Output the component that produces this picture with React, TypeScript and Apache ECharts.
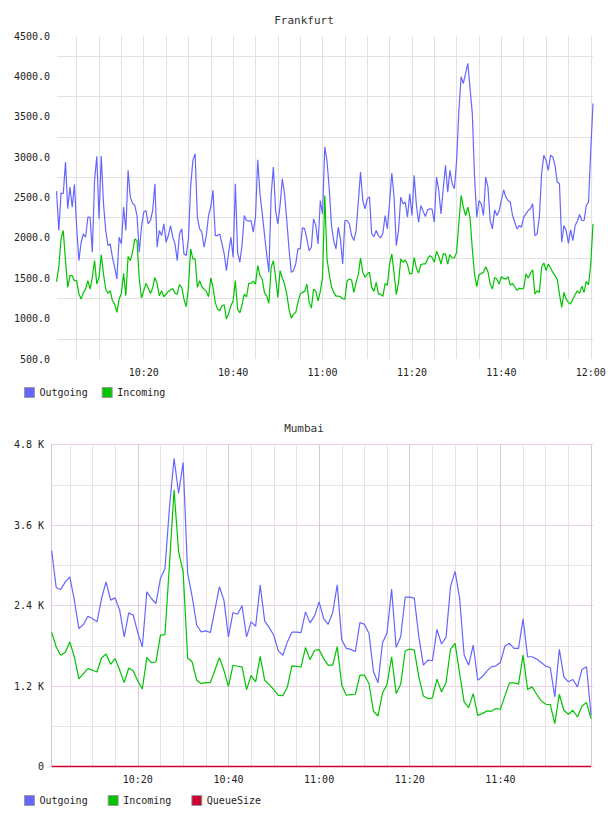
import React, { useEffect, useRef } from "react";
import * as echarts from "echarts";

const FONT = '"DejaVu Sans Mono", monospace';

// ---------- Frankfurt (30 s samples, minutes after 10:00) ----------
const FRA_START = 0.5;
const FRA_STEP = 0.5;
const fraOutgoing = [
  2579, 2091, 2554, 2546, 2940, 2360, 2629, 2381, 2662, 2132,
  1718, 1946, 2049, 2008, 2256, 2256, 1822, 2712, 3010, 2236,
  3014, 2422, 2091, 1905, 1925, 1760, 1635, 1491, 2008, 1925,
  2381, 2091, 2836, 2505, 2430, 2401, 2277, 1822, 2132, 2319,
  2339, 2174, 2215, 2339, 2670, 1884, 2091, 2029, 2174, 1946,
  2029, 2153, 2008, 1925, 1718, 2049, 2112, 1801,
  1780, 1987, 2641, 2960, 3043, 2256, 2112, 2070, 1884, 2029,
  2277, 2381, 2588, 2029, 2029, 2049, 1925, 1801, 1594, 1822,
  2008, 1760, 2670, 1822, 1698, 1917, 2277, 2215, 2207, 2215,
  2070, 2256, 2968, 2546, 2306, 2049, 1801, 1573, 2526, 2877,
  2339, 2174, 2401, 2732, 2546, 2215, 1863, 1573, 1594, 1677,
  1863, 1863, 2124, 2112, 1987, 1842,
  1884, 2236, 2153, 1925, 2463, 2298, 3126, 2952, 2608, 2153,
  1967, 1863, 2132, 1987, 1677, 2215, 2215, 2174, 2029, 1967,
  2091, 2443, 2815, 2463, 2360, 2484, 2505, 2049, 2016, 2091,
  2029, 1999, 2058, 2277, 2112, 2443, 2803, 2505, 1905, 2091,
  2505, 2422, 2443, 2256, 2546, 2277, 2774, 2401, 2194, 2401,
  2331, 2265, 2347, 2360, 2356, 2194,
  2753, 2587, 2297, 2608, 2898, 2567, 2836, 2670, 2608, 2960,
  3581, 3995, 3912, 4036, 4160, 3850, 3539, 2753, 2256, 2463,
  2422, 2277, 2753, 2629, 2215, 2111, 2347, 2277, 2331, 2463,
  2596, 2504, 2463, 2442, 2277, 2194, 2111, 2153, 2132, 2256,
  2297, 2339, 2360, 2422, 2028, 2049, 2256, 2794, 3022, 2960,
  2836, 3022, 3001, 2898, 2691, 2670, 1946, 2153, 2090, 1933,
  2103, 1966, 2153, 2206, 2289, 2215, 2215, 2401, 2442, 3084,
  3664,
];
const fraIncoming = [
  1457, 1635, 1987, 2091, 1718, 1387, 1532, 1532, 1470, 1470,
  1304, 1242, 1325, 1366, 1470, 1366, 1511, 1718, 1428, 1511,
  1789, 1553, 1366, 1312, 1346, 1221, 1180, 1077, 1242, 1312,
  1561, 1283, 1768, 1718, 1822, 1987, 1967, 1491, 1255, 1346,
  1437, 1379, 1312, 1379, 1511, 1428, 1283, 1346, 1271, 1304,
  1337, 1358, 1374, 1312, 1304, 1420, 1387, 1242,
  1147, 1387, 1863, 1739, 1739, 1387, 1470, 1395, 1366, 1337,
  1271, 1503, 1387, 1201, 1118, 1097, 1159, 1172, 994, 1064,
  1159, 1221, 1470, 1118, 1072, 1172, 1304, 1271, 1437, 1437,
  1462, 1428, 1656, 1532, 1491, 1321, 1283, 1188, 1635, 1718,
  1511, 1263, 1594, 1503, 1428, 1304, 1118, 1006, 1056, 1077,
  1201, 1304, 1325, 1337, 1428, 1201,
  1130, 1366, 1337, 1221, 1337, 1511, 2526, 1739, 1544, 1395,
  1325, 1279, 1279, 1271, 1246, 1242, 1470, 1491, 1478, 1325,
  1445, 1544, 1751, 1573, 1511, 1553, 1573, 1387, 1337, 1449,
  1304, 1304, 1275, 1437, 1412, 1677, 1801, 1561, 1296, 1449,
  1739, 1698, 1727, 1669, 1553, 1561, 1760, 1623, 1565, 1669,
  1677, 1677, 1739, 1780, 1760, 1698,
  1834, 1772, 1676, 1801, 1801, 1676, 1792, 1751, 1751, 1821,
  2194, 2525, 2380, 2277, 2380, 2248, 1863, 1552, 1395, 1544,
  1560, 1573, 1643, 1581, 1428, 1366, 1511, 1490, 1428, 1519,
  1498, 1490, 1519, 1416, 1436, 1395, 1349, 1378, 1366, 1378,
  1556, 1503, 1560, 1606, 1304, 1345, 1324, 1635, 1689, 1594,
  1676, 1627, 1573, 1532, 1486, 1304, 1138, 1324, 1242, 1200,
  1180, 1242, 1296, 1345, 1312, 1403, 1324, 1461, 1416, 1676,
  2173,
];
const fraXLabels = [20, 40, 60, 80, 100, 120];
const fraXGrid = [5, 10, 15, 20, 25, 30, 35, 40, 45, 50, 55, 60, 65, 70, 75, 80, 85, 90, 95, 100, 105, 110, 115, 120];
const fraYLabels = [500, 1000, 1500, 2000, 2500, 3000, 3500, 4000, 4500];
const fraYGrid = [750, 1250, 1750, 2250, 2750, 3250, 3750, 4250];

// ---------- Mumbai (1 min samples, minutes after 10:00) ----------
const MUM_START = 1;
const MUM_STEP = 1;
const mumOutgoing = [
  3216, 2664, 2639, 2753, 2828, 2480, 2056, 2116, 2240, 2206,
  2156, 2504, 2753, 2480, 2514, 2330, 1932, 2290, 2255, 1992,
  1782, 2604, 2504, 2430, 2803, 2952, 3873, 4595, 4073, 4531,
  2878, 2529, 2106, 2007, 2021, 1997, 2330, 2679, 2480, 1932,
  2295, 2270, 2395, 1932, 2156, 2091, 2704, 2166, 2071, 1957,
  1723, 1658, 1857, 2002, 2002, 1997, 2305, 2141, 2245, 2455,
  2206, 2120, 2294, 2708, 1885, 1761, 1746, 1711, 2145, 2120,
  1985, 1412, 1247, 1846, 1995, 2644, 1776, 1935, 2524, 2524,
  2509, 1935, 1511, 1586, 1576, 2045, 1826, 1925, 2684, 2908,
  2509, 1661, 1511, 1811, 1287, 1337, 1422, 1486, 1501, 1551,
  1796, 1836, 1761, 1761, 2200, 1636, 1636, 1601, 1551, 1496,
  1476, 1038, 1746, 1337, 1262, 1297, 1187, 1447, 1486, 763,
];
const mumIncoming = [
  1997, 1782, 1658, 1703, 1857, 1633, 1305, 1384, 1459, 1434,
  1409, 1618, 1678, 1524, 1608, 1434, 1250, 1469, 1424, 1275,
  1155, 1628, 1549, 1558, 1957, 1967, 3027, 4123, 3202, 2903,
  1618, 1558, 1285, 1235, 1250, 1250, 1434, 1623, 1434, 1195,
  1509, 1494, 1484, 1145, 1359, 1260, 1643, 1285, 1220, 1145,
  1061, 1056, 1185, 1499, 1494, 1479, 1773, 1593, 1733, 1743,
  1608, 1511, 1511, 1786, 1212, 1062, 1072, 1077, 1362, 1362,
  1237, 823, 753, 1097, 1227, 1636, 1087, 1227, 1726, 1751,
  1736, 1337, 1052, 1013, 1023, 1302, 1112, 1247, 1751, 1836,
  1387, 963, 878, 1087, 763, 788, 828, 823, 863, 853,
  1052, 1247, 1247, 1227, 1661, 1147, 1187, 1077, 978, 928,
  923, 638, 1077, 838, 778, 838, 738, 903, 953, 713,
];
const mumQueue = [
  0, 0, 0, 0, 0, 0, 0, 0, 0, 0, 0, 0, 0, 0, 0, 0, 0, 0, 0, 0,
  0, 0, 0, 0, 0, 0, 0, 0, 0, 0, 0, 0, 0, 0, 0, 0, 0, 0, 0, 0,
  0, 0, 0, 0, 0, 0, 0, 0, 0, 0, 0, 0, 0, 0, 0, 0, 0, 0, 0, 0,
  0, 0, 0, 0, 0, 0, 0, 0, 0, 0, 0, 0, 0, 0, 0, 0, 0, 0, 0, 0,
  0, 0, 0, 0, 0, 0, 0, 0, 0, 0, 0, 0, 0, 0, 0, 0, 0, 0, 0, 0,
  0, 0, 0, 0, 0, 0, 0, 0, 0, 0, 0, 0, 0, 0, 0, 0, 0, 0, 0, 0,
];
const mumXLabels = [20, 40, 60, 80, 100];
const mumXGrid = [5, 10, 15, 20, 25, 30, 35, 40, 45, 50, 55, 60, 65, 70, 75, 80, 85, 90, 95, 100, 105, 110, 115, 120];
const mumYLabels = [0, 1200, 2400, 3600, 4800];

const BLUE = "#6666ff";
const GREEN = "#00c400";
const RED = "#cc0033";

const fmtTime = (v: number) => {
  const m = Math.round(v);
  const h = 10 + Math.floor(m / 60);
  return `${h}:${String(m % 60).padStart(2, "0")}`;
};

const pairs = (vals: number[], start: number, step: number) =>
  vals.map((v, i) => [start + i * step, v]);

const lineSeries = (name: string, color: string, data: number[][], width = 1.2, clip = true) => ({
  name,
  type: "line",
  data,
  showSymbol: false,
  symbol: "none",
  clip,
  lineStyle: { color, width },
  itemStyle: { color },
  emphasis: { disabled: true },
});

const titleOpt = (text: string) => ({
  text,
  left: "center",
  top: 10,
  textStyle: { fontFamily: FONT, fontSize: 11, fontWeight: "normal", color: "#333" },
});

const legendOpt = (names: string[], gap: number) => ({
  data: names,
  left: 19,
  top: 382,
  icon: "rect",
  itemWidth: 10,
  itemHeight: 10,
  itemGap: gap,
  selectedMode: false,
  itemStyle: { borderColor: "#999", borderWidth: 1 },
  textStyle: { fontFamily: FONT, fontSize: 10, color: "#222" },
});

export default function App() {
  const ref1 = useRef<HTMLDivElement>(null);
  const ref2 = useRef<HTMLDivElement>(null);

  useEffect(() => {
    if (!ref1.current || !ref2.current) return;
    const c1 = echarts.init(ref1.current, undefined, { renderer: "svg" });
    const c2 = echarts.init(ref2.current, undefined, { renderer: "svg" });

    c1.setOption({
      animation: false,
      textStyle: { fontFamily: FONT },
      title: titleOpt("Frankfurt"),
      legend: legendOpt(["Outgoing", "Incoming"], 14),
      grid: { left: 57, right: 15, top: 36, height: 323, containLabel: false, outerBoundsMode: "none" },
      xAxis: {
        type: "value",
        min: 0.6,
        max: 120.5,
        axisLine: { show: false },
        axisTick: { show: false, customValues: fraXGrid },
        axisLabel: {
          customValues: fraXLabels,
          formatter: fmtTime,
          margin: 8,
          fontFamily: FONT,
          fontSize: 10,
          color: "#222",
        },
        splitLine: { show: true, lineStyle: { color: "#e2e2e2", width: 1 } },
      },
      yAxis: {
        type: "value",
        min: 500,
        max: 4500,
        axisLine: { show: false },
        axisTick: { show: false, customValues: fraYGrid },
        axisLabel: {
          customValues: fraYLabels,
          formatter: (v: number) => v.toFixed(1),
          margin: 7,
          fontFamily: FONT,
          fontSize: 10,
          color: "#222",
        },
        splitLine: { show: true, lineStyle: { color: "#e2e2e2", width: 1 } },
      },
      series: [
        lineSeries("Outgoing", BLUE, pairs(fraOutgoing, FRA_START, FRA_STEP)),
        lineSeries("Incoming", GREEN, pairs(fraIncoming, FRA_START, FRA_STEP)),
      ],
    });

    c2.setOption({
      animation: false,
      textStyle: { fontFamily: FONT },
      title: titleOpt("Mumbai"),
      legend: legendOpt(["Outgoing", "Incoming", "QueueSize"], 20),
      grid: { left: 51, right: 15, top: 36.5, height: 322, containLabel: false, outerBoundsMode: "none" },
      xAxis: {
        type: "value",
        min: 0.85,
        max: 120.43,
        axisLine: { show: false },
        axisTick: { show: false, customValues: mumXGrid },
        axisLabel: {
          customValues: mumXLabels,
          formatter: fmtTime,
          margin: 8,
          fontFamily: FONT,
          fontSize: 10,
          color: "#222",
        },
        splitLine: {
          show: true,
          lineStyle: { color: ["#e8e2e8", "#e8e2e8", "#e8e2e8", "#dcc6dc"], width: 1 },
        },
      },
      yAxis: {
        type: "value",
        min: 0,
        max: 4800,
        interval: 600,
        axisLine: { show: true, lineStyle: { color: "#dcc4dc", width: 1 } },
        axisTick: { show: false },
        axisLabel: {
          customValues: mumYLabels,
          formatter: (v: number) => (v === 0 ? "0" : `${(v / 1000).toFixed(1)} K`),
          margin: 7,
          fontFamily: FONT,
          fontSize: 10,
          color: "#222",
        },
        splitLine: {
          show: true,
          lineStyle: { color: ["#e8d0e8", "#e6e6e6"], width: 1 },
        },
      },
      series: [
        lineSeries("Outgoing", BLUE, pairs(mumOutgoing, MUM_START, MUM_STEP)),
        lineSeries("Incoming", GREEN, pairs(mumIncoming, MUM_START, MUM_STEP)),
        lineSeries("QueueSize", RED, pairs(mumQueue, MUM_START, MUM_STEP), 1.5, false),
      ],
    });

    return () => {
      c1.dispose();
      c2.dispose();
    };
  }, []);

  return (
    <div style={{ position: "absolute", left: 0, top: 0, width: 608, height: 816, background: "#fff" }}>
      <div ref={ref1} style={{ position: "absolute", left: 0, top: 0, width: 608, height: 408 }} />
      <div ref={ref2} style={{ position: "absolute", left: 0, top: 408, width: 608, height: 408 }} />
    </div>
  );
}
